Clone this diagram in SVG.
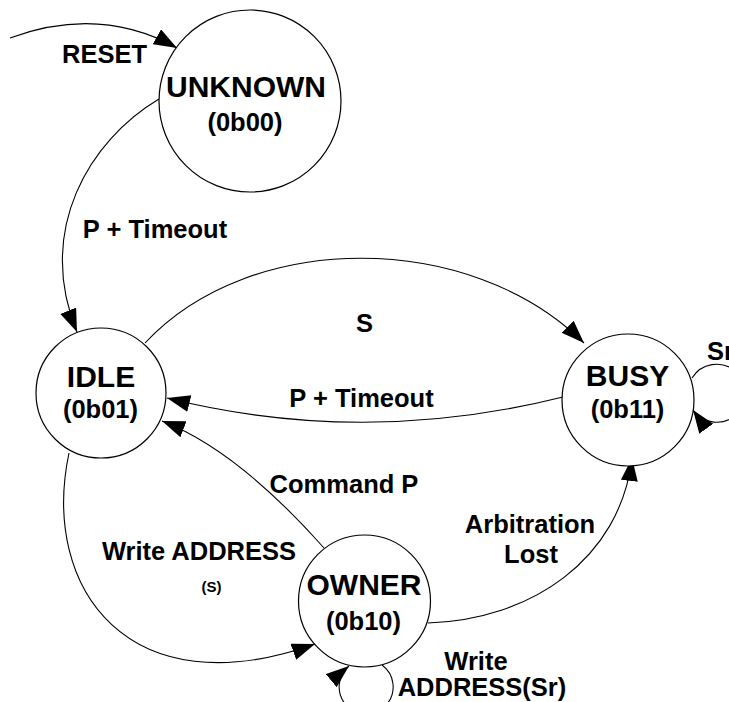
<svg xmlns="http://www.w3.org/2000/svg" width="729" height="702" viewBox="0 0 729 702">
<style>
.st{fill:#fff;stroke:#000;stroke-width:1.2}
.c{fill:none;stroke:#000;stroke-width:1.1}
text{font-family:"Liberation Sans",Arial,sans-serif;font-weight:bold;fill:#000;text-anchor:middle}
.n{font-size:30px}
.k{font-size:25.5px}
.l{font-size:25.5px}
.s{font-size:15px}
</style>
<defs>
<marker id="ah" markerUnits="userSpaceOnUse" markerWidth="26" markerHeight="18" refX="23" refY="8.5" orient="auto">
<path d="M0,0 L23,8.5 L0,17 Z" fill="#000"/>
</marker>
</defs>
<rect width="729" height="702" fill="#fff"/>
<g id="connectors">
<path class="c" d="M10 38 Q100 5 177 48" marker-end="url(#ah)"/>
<path class="c" d="M159 99 C90 140 35 230 77 332" marker-end="url(#ah)"/>
<path class="c" d="M145 343 C250 230 470 230 584 343" marker-end="url(#ah)"/>
<path class="c" d="M563 397 Q363 447 167 398" marker-end="url(#ah)"/>
<path class="c" d="M324 548 Q237 450 162 421" marker-end="url(#ah)"/>
<path class="c" d="M69 453 C40 590 130 710 315 644" marker-end="url(#ah)"/>
<path class="c" d="M428 623 C530 620 620 560 632 458" marker-end="url(#ah)"/>
<path class="c" d="M382 665 A27 27 0 1 1 349 666" marker-end="url(#ah)"/>
<path class="c" d="M692 378 A29 29 0 1 1 693 410" marker-end="url(#ah)"/>
</g>
<g id="unknown">
<circle class="st" cx="250" cy="101" r="91"/>
<text class="n" x="246" y="97">UNKNOWN</text>
<text class="k" x="245" y="131">(0b00)</text>
</g>
<g id="idle">
<circle class="st" cx="101" cy="393" r="65"/>
<text class="n" x="101" y="387">IDLE</text>
<text class="k" x="100.5" y="418">(0b01)</text>
</g>
<g id="busy">
<circle class="st" cx="628" cy="400" r="66"/>
<text class="n" x="627.5" y="386">BUSY</text>
<text class="k" x="627.5" y="418">(0b11)</text>
</g>
<g id="owner">
<circle class="st" cx="364.5" cy="601" r="66"/>
<text class="n" x="364" y="595">OWNER</text>
<text class="k" x="363.5" y="630">(0b10)</text>
</g>
<g id="labels">
<text class="l" x="104.5" y="63">RESET</text>
<text class="l" x="155" y="238">P + Timeout</text>
<text class="l" x="364.5" y="332">S</text>
<text class="l" x="361.5" y="407">P + Timeout</text>
<text class="l" x="344" y="493">Command P</text>
<text class="l" x="530" y="533">Arbitration</text>
<text class="l" x="531" y="563">Lost</text>
<text class="l" x="199" y="560">Write ADDRESS</text>
<text class="s" x="211.5" y="592">(S)</text>
<text class="l" x="476" y="670">Write</text>
<text class="l" x="482" y="696">ADDRESS(Sr)</text>
<text class="l" x="707" y="360" style="text-anchor:start">Sr</text>
</g>
</svg>
